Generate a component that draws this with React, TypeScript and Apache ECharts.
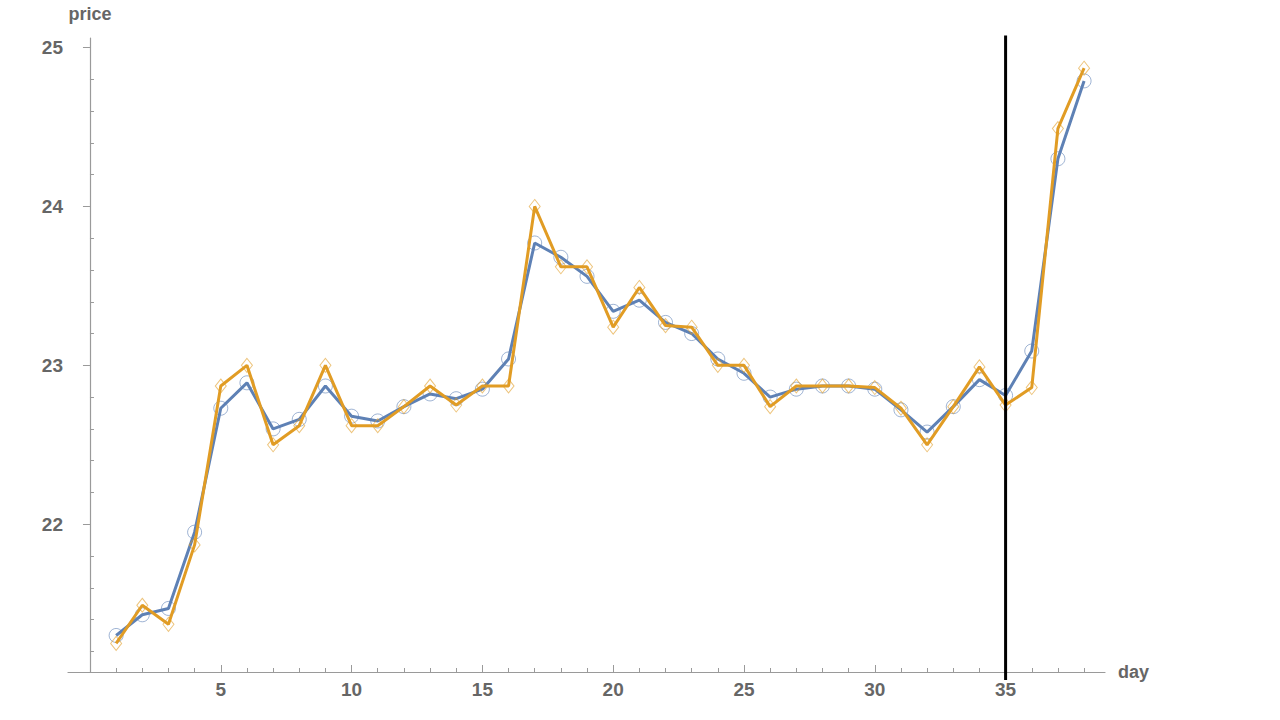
import React, { useEffect, useRef } from "react";
import * as echarts from "echarts";

const days = [1,2,3,4,5,6,7,8,9,10,11,12,13,14,15,16,17,18,19,20,21,22,23,24,25,26,27,28,29,30,31,32,33,34,35,36,37,38];
const bluePrices = [21.30,21.43,21.47,21.95,22.73,22.89,22.60,22.66,22.87,22.68,22.65,22.74,22.82,22.79,22.85,23.04,23.77,23.68,23.56,23.34,23.41,23.27,23.20,23.04,22.95,22.80,22.85,22.87,22.87,22.85,22.72,22.58,22.74,22.91,22.81,23.09,24.30,24.79];
const orangePrices = [21.25,21.49,21.37,21.87,22.87,23.00,22.50,22.62,23.00,22.62,22.62,22.74,22.87,22.75,22.87,22.87,24.00,23.62,23.62,23.24,23.49,23.25,23.24,23.00,23.00,22.74,22.87,22.87,22.87,22.86,22.73,22.50,22.74,22.99,22.75,22.86,24.49,24.87];
const cutoffDay = 35;
const xMajorTicks = [5,10,15,20,25,30,35];
const xMinorTicks = [1,2,3,4,6,7,8,9,11,12,13,14,16,17,18,19,21,22,23,24,26,27,28,29,31,32,33,34,36,37,38];
const yMajorTicks = [22,23,24,25];
const yMinorTicks = [21.2,21.4,21.6,21.8,22.2,22.4,22.6,22.8,23.2,23.4,23.6,23.8,24.2,24.4,24.6,24.8];
const xRange = [-0.84, 38.8];
const yRange = [21.07, 25.06];
const cutoffSpan = [21.02, 25.075];

const AXIS_COLOR = "#9a9a9a";
const LABEL_COLOR = "#666666";
const FONT = "Liberation Sans, Arial, sans-serif";

export default function App() {
  const ref = useRef<HTMLDivElement>(null);
  useEffect(() => {
    document.body.style.margin = "0";
    document.body.style.overflow = "hidden";
    const chart = echarts.init(ref.current!, null, { renderer: "svg" });
    const nameStyle = { color: LABEL_COLOR, fontSize: 18, fontWeight: "bold" as const, fontFamily: FONT };
    const tickStyle = { color: LABEL_COLOR, fontSize: 19, fontWeight: "bold" as const, fontFamily: FONT };
    chart.setOption({
      animation: false,
      backgroundColor: "#ffffff",
      grid: { left: 68, right: 175, top: 38, bottom: 48, containLabel: false },
      xAxis: [
        {
          type: "value",
          min: xRange[0],
          max: xRange[1],
          name: "day",
          nameLocation: "end",
          nameGap: 13,
          nameTextStyle: nameStyle,
          axisLine: { show: true, onZero: false, lineStyle: { color: AXIS_COLOR, width: 1.2 } },
          axisTick: { show: true, inside: true, length: 7, customValues: xMajorTicks, lineStyle: { color: AXIS_COLOR } },
          axisLabel: { show: true, margin: 8, customValues: xMajorTicks, ...tickStyle },
          splitLine: { show: false },
        },
        {
          type: "value",
          min: xRange[0],
          max: xRange[1],
          position: "bottom",
          axisLine: { show: false, onZero: false },
          axisTick: { show: true, inside: true, length: 4, customValues: xMinorTicks, lineStyle: { color: AXIS_COLOR } },
          axisLabel: { show: false },
          splitLine: { show: false },
        },
      ],
      yAxis: [
        {
          type: "value",
          min: yRange[0],
          max: yRange[1],
          name: "price",
          nameLocation: "end",
          nameGap: 15,
          nameTextStyle: { ...nameStyle, align: "center" },
          axisLine: { show: true, onZero: true, onZeroAxisIndex: 0, lineStyle: { color: AXIS_COLOR, width: 1.2 } },
          axisTick: { show: true, inside: false, length: 7, customValues: yMajorTicks, lineStyle: { color: AXIS_COLOR } },
          axisLabel: { show: true, margin: 5, customValues: yMajorTicks, ...tickStyle },
          splitLine: { show: false },
        },
        {
          type: "value",
          min: yRange[0],
          max: yRange[1],
          axisLine: { show: false, onZero: true, onZeroAxisIndex: 0 },
          axisTick: { show: true, inside: false, length: 4, customValues: yMinorTicks, lineStyle: { color: AXIS_COLOR } },
          axisLabel: { show: false },
          splitLine: { show: false },
        },
      ],
      series: [
        {
          type: "line",
          data: days.map((d, i) => [d, bluePrices[i]]),
          symbol: "circle",
          symbolSize: 14,
          showSymbol: true,
          lineStyle: { color: "#5E81B5", width: 3 },
          itemStyle: { color: "rgba(255,255,255,0)", borderColor: "rgba(94,129,181,0.6)", borderWidth: 1 },
          z: 2,
        },
        {
          type: "line",
          data: days.map((d, i) => [d, orangePrices[i]]),
          symbol: "diamond",
          symbolSize: [11, 14],
          showSymbol: true,
          lineStyle: { color: "#E19C24", width: 3 },
          itemStyle: { color: "rgba(255,255,255,0)", borderColor: "rgba(225,156,36,0.6)", borderWidth: 1 },
          z: 3,
        },
        {
          type: "line",
          data: [[cutoffDay, cutoffSpan[0]], [cutoffDay, cutoffSpan[1]]],
          symbol: "none",
          clip: false,
          lineStyle: { color: "#000000", width: 3 },
          z: 5,
          silent: true,
        },
      ],
    });
    return () => chart.dispose();
  }, []);
  return <div ref={ref} style={{ width: 1280, height: 720 }} />;
}
